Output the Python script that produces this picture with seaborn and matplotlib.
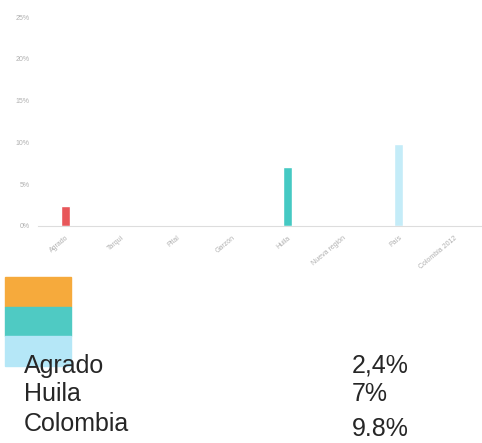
import matplotlib
matplotlib.use("Agg")
import matplotlib.pyplot as plt
import seaborn as sns
import pandas as pd
from matplotlib.patches import Rectangle

categories = ["Agrado", "Tarqui", "Pital", "Garzón", "Huila", "Nueva región", "País", "Colombia 2012"]
values = [2.4, 0, 0, 0, 7.0, 0, 9.8, 0]
bar_colors = ["#e8575a", "#d0d0d0", "#d0d0d0", "#d0d0d0", "#45c9c3", "#d0d0d0", "#c4ecf8", "#d0d0d0"]
y_ticks = [0, 5, 10, 15, 20, 25]
y_tick_labels = ["0%", "5%", "10%", "15%", "20%", "25%"]

legend_names = ["Agrado", "Huila", "Colombia"]
legend_values = ["2,4%", "7%", "9.8%"]
legend_colors = ["#f6aa3c", "#4fcac3", "#b5e7f7"]

sns.set_theme(style="white")
plt.rcParams["font.family"] = ["Liberation Sans", "DejaVu Sans"]

fig = plt.figure(figsize=(4.82, 4.43), dpi=100)
ax = fig.add_axes([38 / 482, 1 - 226 / 443, 1 - 38 / 482, (226 - 17) / 443])

df = pd.DataFrame({"cat": categories, "val": values})
sns.barplot(data=df, x="cat", y="val", hue="cat", palette=bar_colors,
            legend=False, width=0.17, ax=ax, saturation=1)

ax.set_ylim(0, 25)
ax.set_xlim(-0.5, 7.5)
ax.set_yticks(y_ticks)
ax.set_yticklabels(y_tick_labels, fontsize=5, color="#b0b0b0")
ax.set_xticks(range(len(categories)))
ax.set_xticklabels(categories, rotation=40, ha="right", rotation_mode="anchor",
                   fontsize=5, color="#b0b0b0")
ax.set_xlabel("")
ax.set_ylabel("")
ax.tick_params(axis="both", length=0, pad=6)
for s in ["top", "right", "left"]:
    ax.spines[s].set_visible(False)
ax.spines["bottom"].set_color("#dddddd")
ax.spines["bottom"].set_linestyle((0, (2, 1)))
ax.spines["bottom"].set_linewidth(0.8)

# legend block
for i, c in enumerate(legend_colors):
    y0 = 1 - (277 + i * 29.5) / 443
    fig.patches.append(Rectangle((5 / 482, y0 - 29.5 / 443), 66 / 482, 29.5 / 443,
                                 transform=fig.transFigure, color=c, zorder=1))

name_baselines = [373, 401, 431]
value_baselines = [373, 401, 436]
for n, v, yb, vb in zip(legend_names, legend_values, name_baselines, value_baselines):
    fig.text(24 / 482, 1 - yb / 443, n, fontsize=18, color="#262626",
             va="baseline", ha="left", zorder=3)
    fig.text(352 / 482, 1 - vb / 443, v, fontsize=18, color="#262626",
             va="baseline", ha="left", zorder=3)

fig.savefig("out.png", dpi=100)
